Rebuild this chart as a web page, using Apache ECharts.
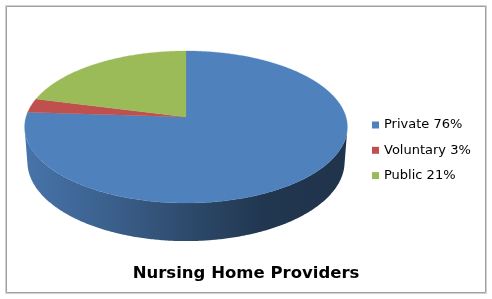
<!DOCTYPE html>
<html><head><meta charset="utf-8">
<script src="https://cdn.jsdelivr.net/npm/echarts@6/dist/echarts.min.js"></script>
<style>html,body{margin:0;padding:0;background:#fff}#c{width:492px;height:299px}</style>
</head><body><div id="c"></div>
<script>
const categories = ['Private', 'Voluntary', 'Public'];
const values = [76, 3, 21];
const legendLabels = ['Private 76%', 'Voluntary 3%', 'Public 21%'];
const colors = ['#4f81bd', '#c0504d', '#9bbb59'];
const chartTitle = 'Nursing Home Providers';

// perspective view of the pie disc
const V = {cx: 186, cy: 117, f: 1075, D: 6.72, s: 0.467, c: 0.884, h: 0.249};
function proj(theta, w) {
  const u = Math.cos(theta), v = Math.sin(theta);
  const depth = V.D + V.c * v - V.s * w;
  return [V.cx + V.f * u / depth, V.cy - V.f * (V.s * v + V.c * w) / depth];
}
const total = values.reduce((a, b) => a + b, 0);
function sliceAngles(i) {
  let before = 0;
  for (let k = 0; k < i; k++) before += values[k];
  const a0 = Math.PI / 2 - 2 * Math.PI * before / total;
  const a1 = Math.PI / 2 - 2 * Math.PI * (before + values[i]) / total;
  return [a1, a0];
}
function arc(lo, hi, w, rev) {
  const n = Math.max(2, Math.ceil((hi - lo) / 0.01));
  const pts = [];
  for (let j = 0; j <= n; j++) {
    const t = rev ? hi - (hi - lo) * j / n : lo + (hi - lo) * j / n;
    pts.push(proj(t, w));
  }
  return pts;
}
const visOff = Math.asin(1 / (V.D * V.c));
function shade(hex, k) {
  const c = echarts.color.parse(hex);
  return 'rgb(' + [0, 1, 2].map(j => Math.round(c[j] * k)).join(',') + ')';
}

function renderSlice(params, api) {
  const i = params.seriesIndex;
  const [a1, a0] = sliceAngles(i);
  const children = [];
  const base = colors[i];
  for (let k = -2; k <= 1; k++) {
    const vs = -Math.PI + visOff + 2 * Math.PI * k;
    const ve = -visOff + 2 * Math.PI * k;
    const lo = Math.max(vs, a1), hi = Math.min(ve, a0);
    if (hi > lo) {
      const pts = arc(lo, hi, 0, false).concat(arc(lo, hi, -V.h, true));
      children.push({
        type: 'polygon', shape: {points: pts},
        style: {
          fill: new echarts.graphic.LinearGradient(0, 0, 1, 0, [
            {offset: 0, color: shade(base, 0.9)},
            {offset: 0.3, color: shade(base, 0.72)},
            {offset: 0.55, color: shade(base, 0.54)},
            {offset: 0.75, color: shade(base, 0.42)},
            {offset: 1, color: shade(base, 0.4)}
          ], false),
          stroke: null
        }
      });
    }
  }
  const apex = [V.cx, V.cy];
  const topPts = [apex].concat(arc(a1, a0, 0, false));
  children.push({
    type: 'polygon', shape: {points: topPts},
    style: {fill: base, stroke: base, lineWidth: 0.3}
  });
  return {type: 'group', children: children};
}

const chart = echarts.init(document.getElementById('c'), null, {renderer: 'canvas'});
chart.setOption({
  animation: false,
  backgroundColor: '#ffffff',
  title: {
    text: chartTitle, left: 'center', top: 260,
    textStyle: {fontFamily: 'DejaVu Sans', fontSize: 16.5, fontWeight: 'bold', color: '#000'}
  },
  legend: {
    orient: 'vertical', left: 372, top: 117.5, padding: 0,
    icon: 'rect', itemWidth: 7, itemHeight: 7, itemGap: 10.3,
    data: categories,
    formatter: name => legendLabels[categories.indexOf(name)],
    textStyle: {fontFamily: 'DejaVu Sans', fontSize: 13, color: '#000', lineHeight: 15}
  },
  graphic: [
    {type: 'rect', shape: {x: 5.5, y: 5.5, width: 481, height: 288}, style: {fill: null, stroke: '#d0d0d0', lineWidth: 1}, silent: true},
    {type: 'rect', shape: {x: 6.5, y: 6.5, width: 479, height: 286}, style: {fill: null, stroke: '#a0a0a0', lineWidth: 1}, silent: true}
  ],
  series: categories.map((name, i) => ({
    type: 'custom', name: name, coordinateSystem: 'none',
    itemStyle: {color: colors[i]},
    renderItem: renderSlice,
    data: [[values[i]]]
  }))
});
</script>
</body></html>
